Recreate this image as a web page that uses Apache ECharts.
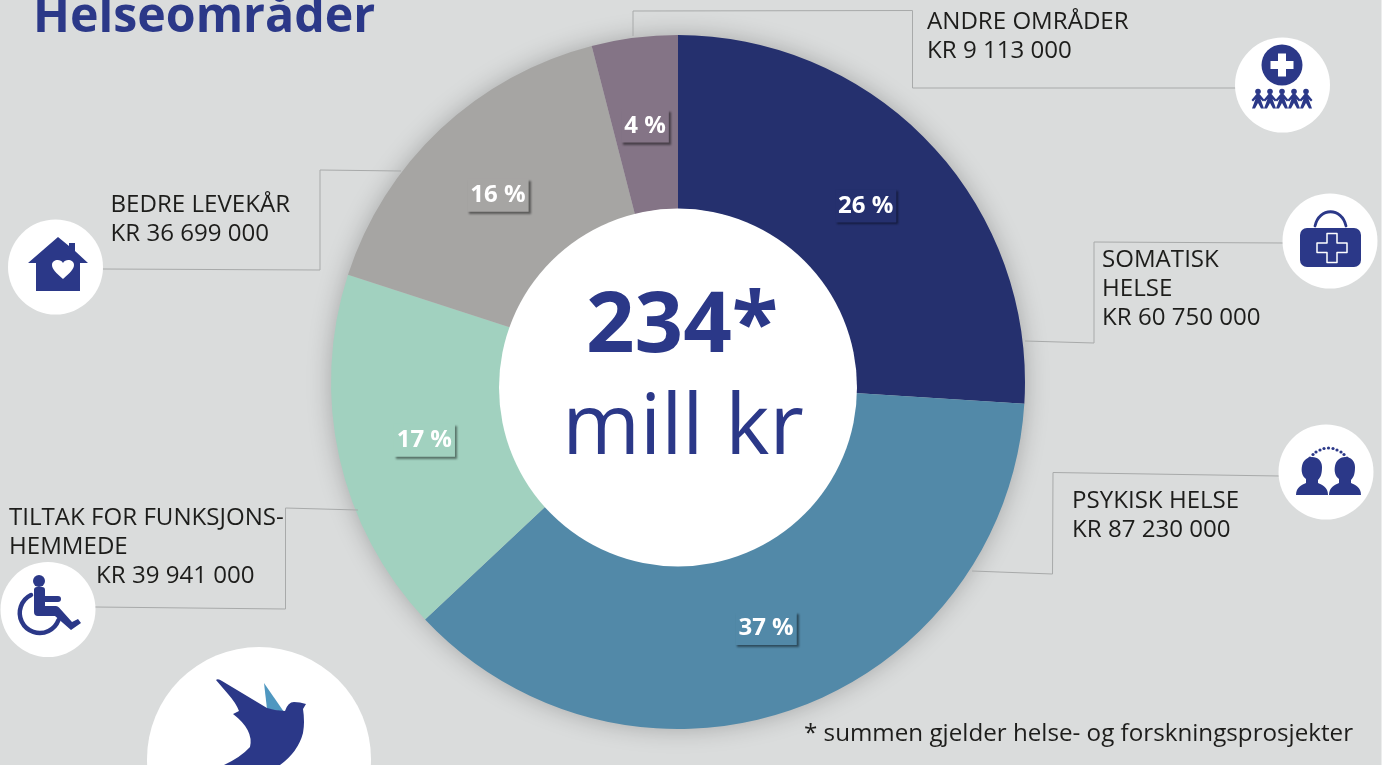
<!DOCTYPE html>
<html>
<head>
<meta charset="utf-8">
<style>html,body{margin:0;padding:0;background:#fff}#c{width:1386px;height:765px}</style>
<script src="https://cdn.jsdelivr.net/npm/echarts@6/dist/echarts.min.js"></script>
</head>
<body>
<div id="c"></div>
<script>
var categories = ['SOMATISK HELSE', 'PSYKISK HELSE', 'TILTAK FOR FUNKSJONSHEMMEDE', 'BEDRE LEVEKÅR', 'ANDRE OMRÅDER'];
var percents = [26, 37, 17, 16, 4];
var amounts = [60750000, 87230000, 39941000, 36699000, 9113000];
var colors = ['#25306e', '#5289a8', '#a1d1bf', '#a6a5a3', '#847486'];
var titleText = 'Helseområder';
var totalText = '234*';
var unitText = 'mill kr';
var footnote = '* summen gjelder helse- og forskningsprosjekter';
var labelNudges = [[-4, 4], [-1, -1], [3, 1], [0, 5], [0, 5]];

var BLUE = '#2b3888', INK = '#1d1d1b', LINE = '#a8aaaa';
var FONT = '"Open Sans", sans-serif';
function kr(v) { return 'KR ' + String(v).replace(/\B(?=(\d{3})+$)/g, ' '); }

var g = [], shapeCount = 0;
function rect(x, y, w, h, fill, r) { g.push({type:'rect', z:1, shape:{x:x,y:y,width:w,height:h,r:r||0}, style:{fill:fill}, silent:true}); }
function circle(cx, cy, r, fill, extra) { g.push({type:'circle', z:(extra&&extra.z)||60, shape:{cx:cx,cy:cy,r:r}, style:Object.assign({fill:fill}, (extra&&extra.style)||{}), silent:true}); }
function path(d, fill, stroke, lw) {
  var name = 'iconShape' + (shapeCount++);
  echarts.graphic.registerShape(name, echarts.graphic.extendPath(d, {}));
  g.push({type:name, z:61, style:{fill:fill||'none', stroke:stroke||'none', lineWidth:lw||1, lineCap:'round', lineJoin:'round'}, silent:true});
}
function line(pts) { g.push({type:'polyline', z:55, shape:{points:pts}, style:{fill:'none', stroke:LINE, lineWidth:1}, silent:true}); }
function text(x, y, t, size, opts) {
  opts = opts || {};
  g.push({type:'text', z:70, x:x, y:y, style:{text:t, fill:opts.fill||INK, font:(opts.weight||'400')+' '+size+'px '+FONT, textAlign:opts.align||'left', textVerticalAlign:'middle'}, silent:true});
}

/* background and ring shadow */
rect(0, 0, 1381.5, 765, '#dadcdc');
circle(678, 382, 345, '#c4c5c5', {z:2, style:{shadowBlur:26, shadowColor:'rgba(0,0,0,0.28)'}});

/* leader lines */
line([[633,36],[633,11],[912.5,10.5],[912.5,88],[1236,88]]);
line([[1025,341],[1094,343],[1094,242],[1284,243]]);
line([[972,571],[1052.5,574],[1053,472.5],[1279,476]]);
line([[401,171],[320,170],[320,270],[103,269]]);
line([[358,510],[285.5,508],[285.5,609],[95,607]]);

/* centre disc */
circle(678, 387.5, 179, '#ffffff', {z:50});
text(682, 328, totalText, 85, {fill:BLUE, weight:'700', align:'center'});
text(683, 430, unitText, 84, {fill:BLUE, align:'center'});

/* texts */
text(33, 18, titleText, 48.3, {fill:BLUE, weight:'700'});
var S = 24.1;
text(927, 22, categories[4], S);
text(927, 51, kr(amounts[4]), S);
text(1102, 260, 'SOMATISK', S);
text(1102, 289, 'HELSE', S);
text(1102, 318, kr(amounts[0]), S);
text(1072, 501, categories[1], S);
text(1072, 530, kr(amounts[1]), S);
text(110.5, 205, categories[3], S);
text(110.5, 234, kr(amounts[3]), S);
text(9, 518, 'TILTAK FOR FUNKSJONS-', S);
text(9, 547, 'HEMMEDE', S);
text(96, 576, kr(amounts[2]), S);
text(804, 734, footnote, 24.2);

/* icon discs */
circle(1282.5, 85, 47.5, '#fff');
circle(1330, 241, 47.5, '#fff');
circle(1326, 472, 47.5, '#fff');
circle(55.5, 267, 47.5, '#fff');
circle(48, 609.5, 47.5, '#fff');
circle(259, 759, 112, '#fff');

/* andre: plus + five people */
circle(1282, 65, 20.5, BLUE, {z:61});
path('M1278 53.5h8v7.5h7.5v8h-7.5v7.5h-8v-7.5h-7.5v-8h7.5z', '#fff');
[1258,1270,1282,1294,1306].forEach(function(x){
  circle(x, 91.5, 2.8, BLUE, {z:61});
  path('M'+(x-1.5)+' 94 H'+(x+1.5)+' L'+(x+6.5)+' 100 L'+(x+5)+' 101.5 L'+(x+2.5)+' 99 L'+(x+6)+' 108.5 H'+(x+3)+' L'+x+' 103 L'+(x-3)+' 108.5 H'+(x-6)+' L'+(x-2.5)+' 99 L'+(x-5)+' 101.5 L'+(x-6.5)+' 100 Z', BLUE);
});

/* somatisk: bag */
path('M1307 228h47a7 7 0 0 1 7 7v25a7 7 0 0 1 -7 7h-47a7 7 0 0 1 -7 -7v-25a7 7 0 0 1 7 -7z', BLUE);
path('M1315 226 C1319 207 1342 207 1346 226', 'none', BLUE, 2.8);
path('M1327 233.5h10v9.5h10v9.5h-10v10h-10v-10h-10v-9.5h10z', 'none', '#fff', 1.5);

/* psykisk: two heads */
[1312, 1345].forEach(function(x){
  path('M'+(x-16)+' 495 C'+(x-16)+' 487 '+(x-10)+' 485 '+(x-6)+' 483 L'+(x-6)+' 479 C'+(x-10)+' 476 '+(x-11)+' 471 '+(x-10)+' 466 C'+(x-9)+' 460 '+(x-4)+' 457 '+x+' 457 C'+(x+6)+' 457 '+(x+10)+' 461 '+(x+10)+' 467 C'+(x+10)+' 473 '+(x+9)+' 477 '+(x+6)+' 480 L'+(x+6)+' 483 C'+(x+10)+' 485 '+(x+16)+' 487 '+(x+16)+' 495 Z', BLUE);
});
[[1310,458],[1313,454.5],[1316,452],[1320,450],[1324,448.5],[1328.5,448],[1333,448.5],[1337,450],[1341,452],[1344,454.5],[1347,458]].forEach(function(p){
  circle(p[0], p[1], 1.6, BLUE, {z:61});
});

/* bedre: house */
path('M58 237 L69 246 V243 H75 V251 L88 263 H80 V291 H36 V263 H28 Z', BLUE);
path('M63 279 C56 273 52 269 52 265 C52 260 60 258 63 263 C66 258 74 260 74 265 C74 269 70 273 63 279 Z', '#fff');

/* tiltak: wheelchair */
circle(39, 581, 6, BLUE, {z:61});
path('M37 587 H42 A3 3 0 0 1 45 590 V596 H58 A3 3 0 0 1 58 602 H45 V606 H56 A4 4 0 0 1 59 607.5 L72 622 L78 619 L81 623 L71 630 L55 616 H38 A4 4 0 0 1 34 612 V590 A3 3 0 0 1 37 587 Z', BLUE);
path('M31 595 A20 20 0 1 0 58.5 620', 'none', BLUE, 4.5);

/* bird */
path('M264 683 L267 709 L284 712 Z', '#4f97c0');
path('M216 680 Q218 678 222 681 L267 708 Q276 711 285 711 Q288 702 294 702 Q300 702 306 704 L303 709 Q305 722 303 733 Q298 752 280 765 H224 Q241 757 250 747 Q254 730 233 714 L239 711 Q236 703 228 694 Z', BLUE);

var chart = echarts.init(document.getElementById('c'), null, {renderer:'canvas'});
chart.setOption({
  animation: false,
  backgroundColor: '#fff',
  graphic: {elements: g},
  series: [{
    type: 'pie',
    z: 5,
    center: [678, 382],
    radius: [173, 347],
    startAngle: 90,
    clockwise: true,
    avoidLabelOverlap: false,
    silent: true,
    data: categories.map(function(c, i){
      return {name:c, value:percents[i], itemStyle:{color:colors[i]},
        label:{backgroundColor:colors[i], offset:labelNudges[i]}};
    }),
    label: {
      show: true,
      position: 'inside',
      formatter: function(p){ return p.value + ' %'; },
      color: '#fff',
      fontFamily: FONT,
      fontWeight: 700,
      fontSize: 24,
      padding: [5, 3, 4, 3],
      shadowColor: 'rgba(0,0,0,0.45)',
      shadowBlur: 2,
      shadowOffsetX: 2,
      shadowOffsetY: 2
    },
    labelLine: {show:false}
  }]
});
</script>
</body>
</html>
